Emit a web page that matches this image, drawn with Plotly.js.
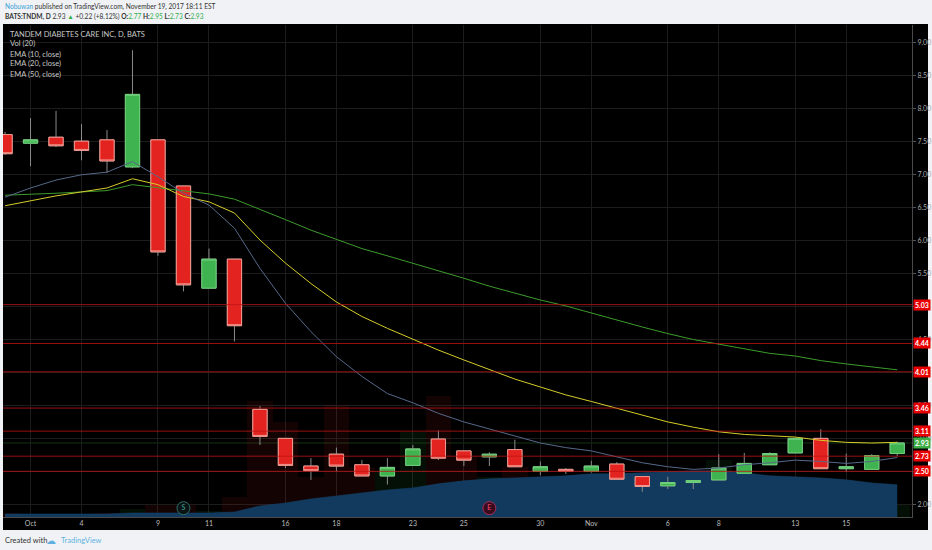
<!DOCTYPE html>
<html>
<head>
<meta charset="utf-8">
<script src="https://cdn.plot.ly/plotly-3.0.1.min.js"></script>
<style>
html,body{margin:0;padding:0;background:#f0f2f5;}
#chart{width:932px;height:550px;}
</style>
</head>
<body>
<div id="chart"></div>
<script>
// ---- data ----
const dates = ['2017-09-29','2017-10-02','2017-10-03','2017-10-04','2017-10-05','2017-10-06',
  '2017-10-09','2017-10-10','2017-10-11','2017-10-12','2017-10-13',
  '2017-10-16','2017-10-17','2017-10-18','2017-10-19','2017-10-20',
  '2017-10-23','2017-10-24','2017-10-25','2017-10-26','2017-10-27',
  '2017-10-30','2017-10-31','2017-11-01','2017-11-02','2017-11-03',
  '2017-11-06','2017-11-07','2017-11-08','2017-11-09','2017-11-10',
  '2017-11-13','2017-11-14','2017-11-15','2017-11-16','2017-11-17'];
const openP  = [7.61,7.48,7.57,7.51,7.53,7.12,7.53,6.83,5.28,5.72,3.44,3.00,2.58,2.76,2.60,2.43,2.59,2.99,2.81,2.72,2.83,2.50,2.53,2.50,2.61,2.42,2.28,2.33,2.37,2.47,2.60,2.78,3.00,2.54,2.53,2.77];
const highP  = [7.65,7.86,7.97,7.77,7.68,8.89,7.53,6.83,5.88,5.72,3.49,3.00,2.70,2.86,2.67,2.70,2.90,3.12,2.81,2.79,2.98,2.65,2.55,2.66,2.64,2.42,2.42,2.37,2.76,2.78,2.79,3.01,3.14,2.77,2.76,2.95];
const lowP   = [7.30,7.13,7.42,7.22,7.03,7.10,5.77,5.23,5.28,4.47,2.90,2.55,2.37,2.50,2.43,2.30,2.58,2.67,2.58,2.58,2.57,2.44,2.46,2.48,2.38,2.19,2.23,2.23,2.37,2.47,2.60,2.78,2.54,2.49,2.53,2.73];
const closeP = [7.32,7.53,7.44,7.37,7.21,8.22,5.83,5.33,5.72,4.71,3.03,2.59,2.51,2.58,2.43,2.56,2.84,2.70,2.67,2.76,2.57,2.57,2.50,2.58,2.38,2.27,2.33,2.36,2.55,2.62,2.77,3.00,2.54,2.57,2.74,2.93];
const ema10 = [6.66,6.80,6.92,7.00,7.04,7.20,6.97,6.72,6.54,6.19,5.58,5.05,4.62,4.24,3.94,3.68,3.54,3.38,3.25,3.14,3.03,2.93,2.86,2.81,2.72,2.63,2.57,2.53,2.55,2.60,2.63,2.67,2.65,2.62,2.65,2.71];
const ema20 = [6.53,6.61,6.68,6.74,6.80,6.94,6.85,6.67,6.59,6.42,6.01,5.66,5.35,5.07,4.85,4.67,4.50,4.34,4.19,4.04,3.90,3.78,3.66,3.56,3.46,3.36,3.25,3.17,3.10,3.06,3.04,3.02,2.97,2.94,2.93,2.94];
const ema50 = [6.69,6.70,6.72,6.74,6.76,6.85,6.80,6.75,6.71,6.63,6.48,6.32,6.16,6.02,5.88,5.77,5.66,5.54,5.43,5.31,5.20,5.10,5.01,4.90,4.79,4.69,4.59,4.50,4.43,4.36,4.29,4.25,4.18,4.13,4.08,4.04];
const volume = [50,40,40,40,50,100,150,150,75,245,1410,1160,490,1370,610,550,1040,1470,735,490,610,400,300,350,450,400,300,250,700,450,400,450,450,300,350,150];
const volMA  = [37,37,37,37,37,49,49,49,49,61,135,171,220,257,294,330,355,404,441,465,477,490,502,526,526,539,551,563,563,539,502,490,477,453,416,392];
const levels = [5.03,4.44,4.01,3.46,3.11,2.73,2.50];
const lastPrice = 2.93;
const priceTicks = [2.0,2.5,3.0,3.5,4.0,4.5,5.0,5.5,6.0,6.5,7.0,7.5,8.0,8.5,9.0];
const priceTickText = ['2.00','','3.00','3.50','','4.50','','5.50','6.00','6.50','7.00','7.50','8.00','8.50','9.00'];
const tickDates = ['2017-10-02','2017-10-04','2017-10-09','2017-10-11','2017-10-16','2017-10-18','2017-10-23','2017-10-25','2017-10-30','2017-11-01','2017-11-06','2017-11-08','2017-11-13','2017-11-15'];
const tickLabels = ['Oct','4','9','11','16','18','23','25','30','Nov','6','8','13','15'];
const eventDates = ['2017-10-10','2017-10-26'];
const eventLabels = ['S','E'];

// ---- styles ----
const FONT = 'Lato, "Open Sans", sans-serif';
const GREEN = '#3fb34f', RED = '#e3231f';
const volColors = closeP.map((c,i)=> c>=openP[i] ? 'rgba(40,170,60,0.09)' : 'rgba(210,30,30,0.09)');
const bodyHigh = closeP.map((c,i)=>Math.max(c,openP[i]));
const bodyLow  = closeP.map((c,i)=>Math.min(c,openP[i]));

// base axis 'y' = volume pane (drawn first), 'y2' = price (overlay, drawn on top)
const traces = [
  {type:'bar', x:dates, y:volume, yaxis:'y', marker:{color:volColors, line:{width:0}}, hoverinfo:'skip', showlegend:false},
  {type:'scatter', mode:'lines', x:dates, y:volMA, yaxis:'y', fill:'tozeroy', fillcolor:'#113a5e', line:{width:0.5,color:'#164670'}, hoverinfo:'skip', showlegend:false},
  {type:'scatter', mode:'lines', x:dates, y:ema50, yaxis:'y2', line:{color:'#3c9c2c', width:1}, hoverinfo:'skip', showlegend:false},
  {type:'scatter', mode:'lines', x:dates, y:ema20, yaxis:'y2', line:{color:'#d6cc2a', width:1}, hoverinfo:'skip', showlegend:false},
  {type:'scatter', mode:'lines', x:dates, y:ema10, yaxis:'y2', line:{color:'#56698a', width:1}, hoverinfo:'skip', showlegend:false},
  {type:'candlestick', x:dates, open:openP, high:highP, low:lowP, close:closeP, yaxis:'y2',
    increasing:{line:{color:'#8a8a8a', width:1}, fillcolor:GREEN},
    decreasing:{line:{color:'#8a8a8a', width:1}, fillcolor:RED},
    whiskerwidth:0, hoverinfo:'skip', showlegend:false},
  {type:'candlestick', x:dates, open:openP, high:bodyHigh, low:bodyLow, close:closeP, yaxis:'y2',
    increasing:{line:{color:'#6fcf7a', width:1}, fillcolor:GREEN},
    decreasing:{line:{color:'#f09a90', width:1}, fillcolor:RED},
    whiskerwidth:0, hoverinfo:'skip', showlegend:false},
  {type:'scatter', mode:'markers+text', x:eventDates, y:eventDates.map(()=>0.018), yaxis:'y3',
    text:eventLabels, textposition:'middle center',
    textfont:{family:FONT, size:7, color:['#4aa096','#ff4d7a']},
    marker:{size:13, color:['#0a1414','#3a0b1c'], line:{width:1, color:['#2e6e68','#a8305a']}},
    hoverinfo:'skip', showlegend:false}
];

const P = px => (517 - px) / 492;   // pixel row -> paper y
const X = px => (px - 3) / 909;     // pixel col -> paper x

const shapes = [
  {type:'rect', xref:'paper', yref:'paper', x0:0, x1:X(928), y0:P(530), y1:P(24), fillcolor:'#000', line:{width:0}, layer:'below'}
];
levels.forEach(v=>shapes.push({type:'line', xref:'paper', yref:'y2', x0:0, x1:1, y0:v, y1:v, line:{color:'rgba(190,20,20,0.8)', width:1}, layer:'above'}));
shapes.push({type:'line', xref:'paper', yref:'y2', x0:0, x1:1, y0:lastPrice, y1:lastPrice, line:{color:'rgba(60,150,60,0.35)', width:1}, layer:'below'});

const annotations = [];
levels.forEach(v=>annotations.push({xref:'paper', yref:'y2', x:1, y:v, xanchor:'left', yanchor:'middle', xshift:1,
  text:'<b>'+v.toFixed(2)+'</b>', showarrow:false, bgcolor:'#e80000', borderpad:1,
  font:{family:FONT, size:7, color:'#fff'}}));
annotations.push({xref:'paper', yref:'y2', x:1, y:lastPrice, xanchor:'left', yanchor:'middle', xshift:1,
  text:'<b>'+lastPrice.toFixed(2)+'</b>', showarrow:false, bgcolor:'#3fae46', borderpad:1,
  font:{family:FONT, size:7, color:'#fff'}});
const legendLines = ['TANDEM DIABETES CARE INC, D, BATS','Vol (20)','EMA (10, close)','EMA (20, close)','EMA (50, close)'];
legendLines.forEach((t,i)=>annotations.push({xref:'paper', yref:'paper', x:X(8), y:P(34+i*10), xanchor:'left', yanchor:'middle',
  text:t, showarrow:false, font:{family:FONT, size:7.5, color:'#c8c8c8'}}));
annotations.push({xref:'paper', yref:'paper', x:X(3), y:P(6), xanchor:'left', yanchor:'middle', showarrow:false,
  text:'<span style="color:#3d9fd6">Nobuwan</span> published on TradingView.com, November 19, 2017 18:11 EST',
  font:{family:FONT, size:6.6, color:'#333'}});
const G = s => '<span style="color:#2fae4a">'+s+'</span>';
annotations.push({xref:'paper', yref:'paper', x:X(3), y:P(17), xanchor:'left', yanchor:'middle', showarrow:false,
  text:'<b>BATS:TNDM, D</b> 2.93 '+G('▲')+' +0.22 (+8.12%) <b>O:</b>'+G('2.77')+' <b>H:</b>'+G('2.95')+' <b>L:</b>'+G('2.73')+' <b>C:</b>'+G('2.93'),
  font:{family:FONT, size:6.6, color:'#333'}});
annotations.push({xref:'paper', yref:'paper', x:X(3), y:P(540), xanchor:'left', yanchor:'middle', showarrow:false,
  text:'Created with', font:{family:FONT, size:7.5, color:'#333'}});
annotations.push({xref:'paper', yref:'paper', x:X(44), y:P(540), xanchor:'left', yanchor:'middle', showarrow:false,
  text:'☁', font:{family:'DejaVu Sans', size:10, color:'#5fb2e0'}});
annotations.push({xref:'paper', yref:'paper', x:X(59), y:P(540), xanchor:'left', yanchor:'middle', showarrow:false,
  text:'TradingView', font:{family:FONT, size:7.5, color:'#5fb2e0'}});

const layout = {
  width:932, height:550,
  margin:{l:3, r:20, t:25, b:33, pad:0},
  paper_bgcolor:'#f0f2f5', plot_bgcolor:'#000',
  font:{family:FONT, size:7, color:'#aaa'},
  showlegend:false,
  boxgap:0.2,
  bargap:0,
  xaxis:{type:'category', categoryorder:'array', categoryarray:dates, range:[-0.08, 35.58],
    tickvals:tickDates, ticktext:tickLabels, tickfont:{family:FONT, size:7, color:'#bbb'},
    showgrid:true, gridcolor:'#1c1c1c', gridwidth:1, ticks:'', showline:true, linecolor:'#4a4a4a',
    rangeslider:{visible:false}, zeroline:false, fixedrange:true},
  yaxis:{range:[0, 6000], showgrid:false, showticklabels:false, zeroline:false, showline:false, ticks:'', fixedrange:true},
  yaxis2:{overlaying:'y', side:'right', range:[1.807, 9.273], tickmode:'array', tickvals:priceTicks, ticktext:priceTickText,
    tickfont:{family:FONT, size:7, color:'#aaa'}, ticks:'outside', ticklen:3, tickcolor:'#555',
    showgrid:true, gridcolor:'#1c1c1c', gridwidth:1, zeroline:false, showline:true, linecolor:'#4a4a4a', fixedrange:true},
  yaxis3:{overlaying:'y', side:'left', range:[0, 1], showgrid:false, showticklabels:false, zeroline:false, showline:false, fixedrange:true},
  shapes:shapes,
  annotations:annotations
};

Plotly.newPlot('chart', traces, layout, {displayModeBar:false, staticPlot:true});
</script>
</body>
</html>
